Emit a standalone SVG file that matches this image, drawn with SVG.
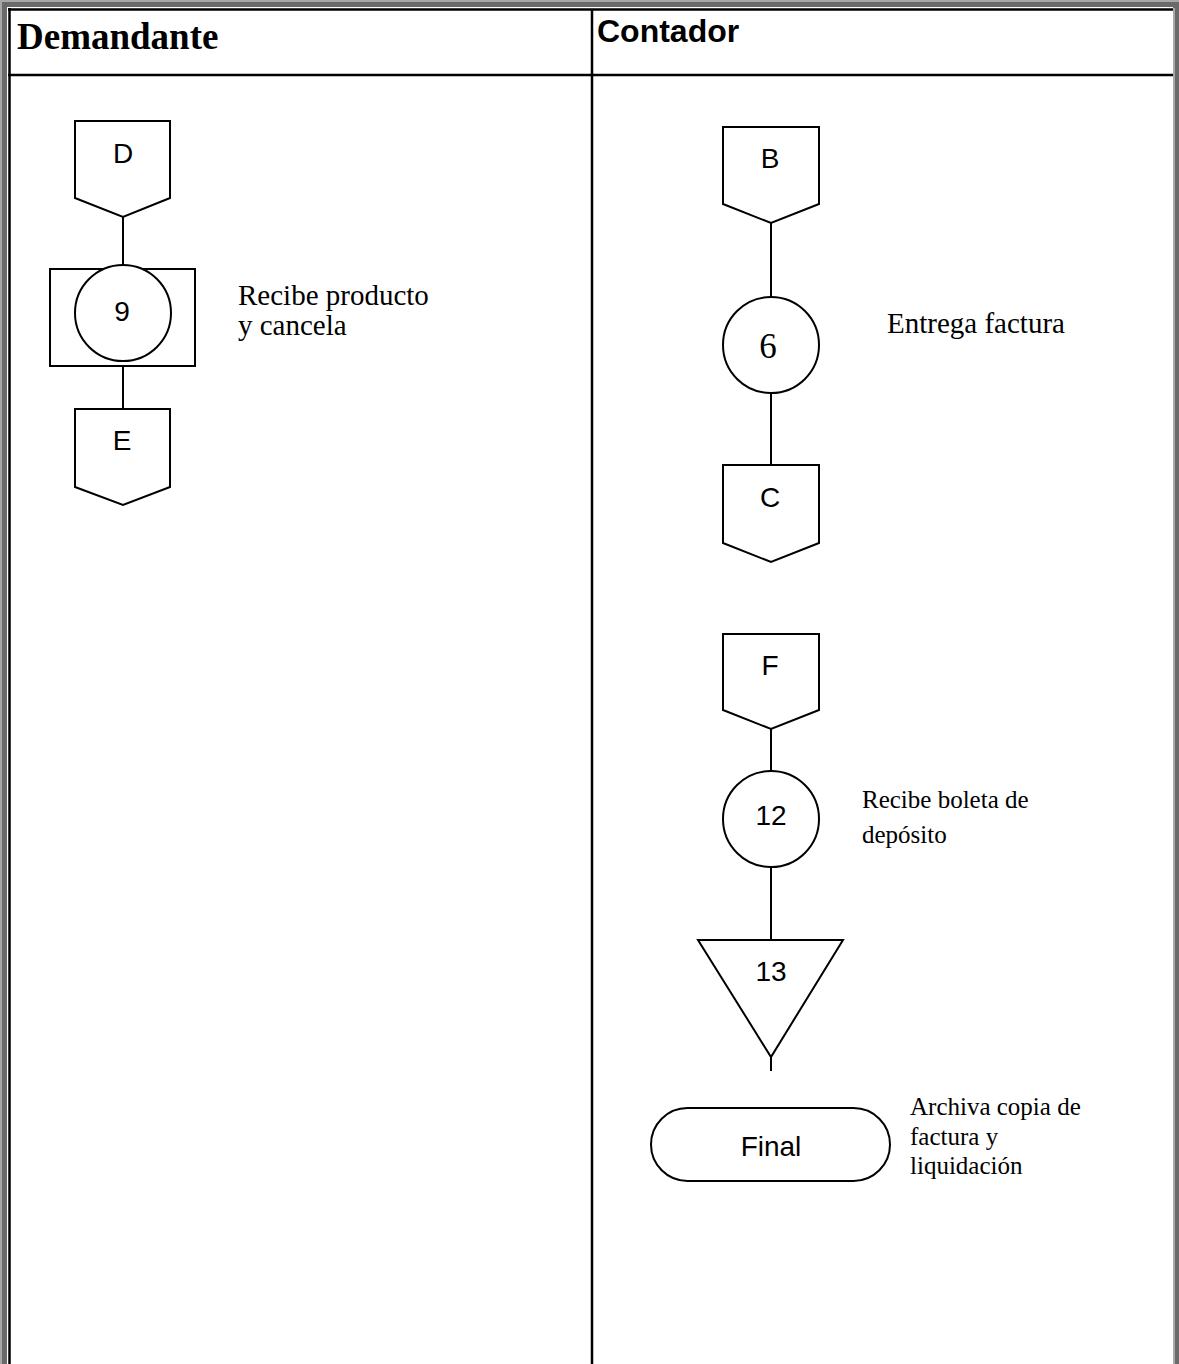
<svg xmlns="http://www.w3.org/2000/svg" width="1179" height="1364" viewBox="0 0 1179 1364">
<style>
.sh{fill:#fff;stroke:#000;stroke-width:2}
.ln{stroke:#000;stroke-width:2;fill:none}
.tb{stroke:#000;stroke-width:2.5;fill:none}
.sym{font-family:"Liberation Sans",Arial,sans-serif;font-size:28px;text-anchor:middle;fill:#000}
.lbl{font-family:"Liberation Serif","Times New Roman",serif;font-size:29px;fill:#000}
.lbs{font-family:"Liberation Serif","Times New Roman",serif;font-size:25px;fill:#000}
</style>
<g id="frame">
<rect x="0" y="0" width="1179" height="1364" fill="#6a6a6a"/>
<rect x="0" y="0" width="1179" height="2" fill="#a8a8a8"/>
<rect x="0" y="0" width="2" height="1364" fill="#a8a8a8"/>
<rect x="1173" y="8" width="2" height="1356" fill="#a8a8a8"/>
<rect x="7" y="7" width="1166" height="1357" fill="#fff"/>
<line class="tb" x1="8" y1="9.5" x2="1173" y2="9.5"/>
<line class="tb" x1="9.5" y1="8" x2="9.5" y2="1364"/>
<line class="tb" x1="8" y1="75" x2="1173" y2="75"/>
<line class="tb" x1="592" y1="9" x2="592" y2="1364"/>
<text x="17" y="49" font-family="'Liberation Serif','Times New Roman',serif" font-weight="bold" font-size="37">Demandante</text>
<text x="597" y="42" font-family="'Liberation Sans',Arial,sans-serif" font-weight="bold" font-size="32">Contador</text>
</g>
<g id="connectors">
<line class="ln" x1="123" y1="217" x2="123" y2="265"/>
<line class="ln" x1="123" y1="361" x2="123" y2="409"/>
<line class="ln" x1="771" y1="223" x2="771" y2="297"/>
<line class="ln" x1="771" y1="393" x2="771" y2="465"/>
<line class="ln" x1="771" y1="729" x2="771" y2="771"/>
<line class="ln" x1="771" y1="867" x2="771" y2="940"/>
<line class="ln" x1="771" y1="1057" x2="771" y2="1071"/>
</g>
<g id="node-D">
<polygon class="sh" points="75,121 170,121 170,198 123,217 75,198"/>
<text class="sym" x="123" y="163">D</text>
</g>
<g id="node-9">
<rect class="sh" x="50" y="269" width="145" height="97"/>
<circle class="sh" cx="123" cy="313" r="48"/>
<text class="sym" x="122" y="321">9</text>
</g>
<g id="label-9">
<text class="lbl" x="238" y="305">Recibe producto</text>
<text class="lbl" x="238" y="335">y cancela</text>
</g>
<g id="node-E">
<polygon class="sh" points="75,409 170,409 170,487 123,505 75,487"/>
<text class="sym" x="122" y="450">E</text>
</g>
<g id="node-B">
<polygon class="sh" points="723,127 819,127 819,204 771,223 723,204"/>
<text class="sym" x="770" y="168">B</text>
</g>
<g id="node-6">
<circle class="sh" cx="771" cy="345" r="48"/>
<text x="768" y="358" font-family="'Liberation Serif','Times New Roman',serif" font-size="35" text-anchor="middle">6</text>
</g>
<g id="label-6">
<text class="lbl" x="887" y="333">Entrega factura</text>
</g>
<g id="node-C">
<polygon class="sh" points="723,465 819,465 819,543 771,562 723,543"/>
<text class="sym" x="770" y="507">C</text>
</g>
<g id="node-F">
<polygon class="sh" points="723,634 819,634 819,710 771,729 723,710"/>
<text class="sym" x="770" y="675">F</text>
</g>
<g id="node-12">
<circle class="sh" cx="771" cy="819" r="48"/>
<text class="sym" x="771" y="825" font-size="30">12</text>
</g>
<g id="label-12">
<text class="lbs" x="862" y="808">Recibe boleta de</text>
<text class="lbs" x="862" y="843">depósito</text>
</g>
<g id="node-13">
<polygon class="sh" points="698,940 843,940 771,1057"/>
<text class="sym" x="771" y="981" font-size="30">13</text>
</g>
<g id="label-13">
<text class="lbs" x="910" y="1115">Archiva copia de</text>
<text class="lbs" x="910" y="1145">factura y</text>
<text class="lbs" x="910" y="1174">liquidación</text>
</g>
<g id="node-final">
<rect class="sh" x="651" y="1108" width="239" height="73" rx="36.5" ry="36.5"/>
<text class="sym" x="771" y="1156" font-size="33">Final</text>
</g>
</svg>
